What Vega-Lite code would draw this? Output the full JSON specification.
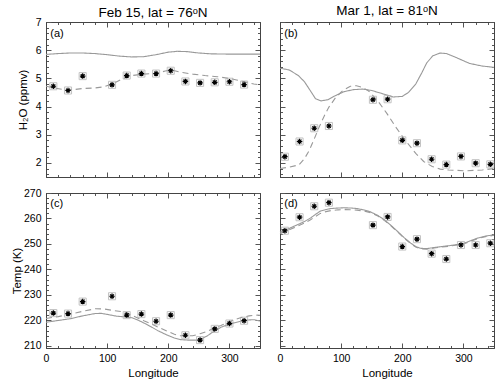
{
  "$schema": "https://vega.github.io/schema/vega-lite/v6.json",
  "padding": {"left": 10, "top": 3, "right": 5, "bottom": 2},
  "background": "white",
  "config": {
    "view": {"stroke": "#444", "strokeWidth": 1},
    "font": "Liberation Sans",
    "axis": {"labelFont": "Liberation Sans", "titleFont": "Liberation Sans", "labelFontSize": 10.5, "titleFontSize": 11.5, "titleFontWeight": "normal", "grid": false, "domainColor": "#444", "tickColor": "#555", "labelColor": "black", "titleColor": "black", "labelFlush": false, "labelOverlap": false, "labelBound": false, "minExtent": 0},
    "title": {"font": "Liberation Sans", "fontSize": 13.5, "fontWeight": "normal", "color": "black", "offset": 4, "anchor": "middle"}
  },
  "datasets": {
    "lines": [
      {"p":"a","s":"solid","lon":0,"v":5.85},{"p":"a","s":"solid","lon":20,"v":5.88},{"p":"a","s":"solid","lon":40,"v":5.9},{"p":"a","s":"solid","lon":60,"v":5.9},{"p":"a","s":"solid","lon":80,"v":5.88},{"p":"a","s":"solid","lon":100,"v":5.84},{"p":"a","s":"solid","lon":120,"v":5.79},{"p":"a","s":"solid","lon":140,"v":5.76},{"p":"a","s":"solid","lon":160,"v":5.77},{"p":"a","s":"solid","lon":180,"v":5.84},{"p":"a","s":"solid","lon":200,"v":5.93},{"p":"a","s":"solid","lon":215,"v":5.96},{"p":"a","s":"solid","lon":230,"v":5.95},{"p":"a","s":"solid","lon":250,"v":5.9},{"p":"a","s":"solid","lon":270,"v":5.87},{"p":"a","s":"solid","lon":300,"v":5.86},{"p":"a","s":"solid","lon":330,"v":5.86},{"p":"a","s":"solid","lon":350,"v":5.86},
      {"p":"a","s":"dashed","lon":0,"v":4.72},{"p":"a","s":"dashed","lon":15,"v":4.65},{"p":"a","s":"dashed","lon":30,"v":4.6},{"p":"a","s":"dashed","lon":45,"v":4.6},{"p":"a","s":"dashed","lon":60,"v":4.64},{"p":"a","s":"dashed","lon":80,"v":4.66},{"p":"a","s":"dashed","lon":95,"v":4.7},{"p":"a","s":"dashed","lon":110,"v":4.82},{"p":"a","s":"dashed","lon":125,"v":4.98},{"p":"a","s":"dashed","lon":140,"v":5.1},{"p":"a","s":"dashed","lon":160,"v":5.15},{"p":"a","s":"dashed","lon":180,"v":5.18},{"p":"a","s":"dashed","lon":195,"v":5.26},{"p":"a","s":"dashed","lon":205,"v":5.3},{"p":"a","s":"dashed","lon":220,"v":5.22},{"p":"a","s":"dashed","lon":240,"v":5.15},{"p":"a","s":"dashed","lon":260,"v":5.1},{"p":"a","s":"dashed","lon":280,"v":5.06},{"p":"a","s":"dashed","lon":300,"v":5.0},{"p":"a","s":"dashed","lon":320,"v":4.9},{"p":"a","s":"dashed","lon":340,"v":4.8},{"p":"a","s":"dashed","lon":350,"v":4.77},
      {"p":"b","s":"solid","lon":0,"v":5.36},{"p":"b","s":"solid","lon":15,"v":5.3},{"p":"b","s":"solid","lon":30,"v":5.1},{"p":"b","s":"solid","lon":40,"v":4.88},{"p":"b","s":"solid","lon":50,"v":4.55},{"p":"b","s":"solid","lon":58,"v":4.28},{"p":"b","s":"solid","lon":67,"v":4.2},{"p":"b","s":"solid","lon":78,"v":4.24},{"p":"b","s":"solid","lon":90,"v":4.38},{"p":"b","s":"solid","lon":105,"v":4.53},{"p":"b","s":"solid","lon":120,"v":4.6},{"p":"b","s":"solid","lon":135,"v":4.62},{"p":"b","s":"solid","lon":150,"v":4.57},{"p":"b","s":"solid","lon":170,"v":4.44},{"p":"b","s":"solid","lon":185,"v":4.34},{"p":"b","s":"solid","lon":200,"v":4.36},{"p":"b","s":"solid","lon":210,"v":4.5},{"p":"b","s":"solid","lon":222,"v":4.8},{"p":"b","s":"solid","lon":232,"v":5.2},{"p":"b","s":"solid","lon":240,"v":5.55},{"p":"b","s":"solid","lon":250,"v":5.8},{"p":"b","s":"solid","lon":262,"v":5.9},{"p":"b","s":"solid","lon":272,"v":5.88},{"p":"b","s":"solid","lon":288,"v":5.74},{"p":"b","s":"solid","lon":310,"v":5.53},{"p":"b","s":"solid","lon":330,"v":5.44},{"p":"b","s":"solid","lon":350,"v":5.39},
      {"p":"b","s":"dashed","lon":0,"v":1.8},{"p":"b","s":"dashed","lon":15,"v":1.85},{"p":"b","s":"dashed","lon":31,"v":1.93},{"p":"b","s":"dashed","lon":40,"v":2.15},{"p":"b","s":"dashed","lon":48,"v":2.45},{"p":"b","s":"dashed","lon":56,"v":2.85},{"p":"b","s":"dashed","lon":64,"v":3.27},{"p":"b","s":"dashed","lon":72,"v":3.65},{"p":"b","s":"dashed","lon":80,"v":3.98},{"p":"b","s":"dashed","lon":92,"v":4.35},{"p":"b","s":"dashed","lon":103,"v":4.57},{"p":"b","s":"dashed","lon":115,"v":4.72},{"p":"b","s":"dashed","lon":125,"v":4.74},{"p":"b","s":"dashed","lon":135,"v":4.68},{"p":"b","s":"dashed","lon":145,"v":4.55},{"p":"b","s":"dashed","lon":160,"v":4.2},{"p":"b","s":"dashed","lon":175,"v":3.75},{"p":"b","s":"dashed","lon":190,"v":3.25},{"p":"b","s":"dashed","lon":205,"v":2.8},{"p":"b","s":"dashed","lon":222,"v":2.34},{"p":"b","s":"dashed","lon":235,"v":2.05},{"p":"b","s":"dashed","lon":249,"v":1.87},{"p":"b","s":"dashed","lon":262,"v":1.78},{"p":"b","s":"dashed","lon":276,"v":1.75},{"p":"b","s":"dashed","lon":303,"v":1.72},{"p":"b","s":"dashed","lon":331,"v":1.75},{"p":"b","s":"dashed","lon":350,"v":1.8},
      {"p":"c","s":"solid","lon":0,"v":219.3},{"p":"c","s":"solid","lon":20,"v":220},{"p":"c","s":"solid","lon":40,"v":220.7},{"p":"c","s":"solid","lon":60,"v":221.8},{"p":"c","s":"solid","lon":80,"v":222.7},{"p":"c","s":"solid","lon":90,"v":222.8},{"p":"c","s":"solid","lon":102,"v":222.3},{"p":"c","s":"solid","lon":115,"v":221.7},{"p":"c","s":"solid","lon":130,"v":221.4},{"p":"c","s":"solid","lon":140,"v":221.1},{"p":"c","s":"solid","lon":150,"v":220.2},{"p":"c","s":"solid","lon":161,"v":218.9},{"p":"c","s":"solid","lon":172,"v":217.5},{"p":"c","s":"solid","lon":183,"v":216},{"p":"c","s":"solid","lon":196,"v":214.5},{"p":"c","s":"solid","lon":210,"v":213.1},{"p":"c","s":"solid","lon":220,"v":212.5},{"p":"c","s":"solid","lon":232,"v":212.3},{"p":"c","s":"solid","lon":248,"v":212.3},{"p":"c","s":"solid","lon":256,"v":213},{"p":"c","s":"solid","lon":264,"v":214},{"p":"c","s":"solid","lon":275,"v":215.8},{"p":"c","s":"solid","lon":286,"v":217.3},{"p":"c","s":"solid","lon":300,"v":218.6},{"p":"c","s":"solid","lon":318,"v":219.7},{"p":"c","s":"solid","lon":330,"v":220.2},{"p":"c","s":"solid","lon":340,"v":220.3},{"p":"c","s":"solid","lon":350,"v":219.8},
      {"p":"c","s":"dashed","lon":0,"v":220.8},{"p":"c","s":"dashed","lon":20,"v":221.5},{"p":"c","s":"dashed","lon":40,"v":222.5},{"p":"c","s":"dashed","lon":60,"v":223.6},{"p":"c","s":"dashed","lon":81,"v":224.6},{"p":"c","s":"dashed","lon":95,"v":224.5},{"p":"c","s":"dashed","lon":110,"v":223.9},{"p":"c","s":"dashed","lon":125,"v":223.4},{"p":"c","s":"dashed","lon":135,"v":222.7},{"p":"c","s":"dashed","lon":150,"v":221},{"p":"c","s":"dashed","lon":160,"v":219.9},{"p":"c","s":"dashed","lon":172,"v":218.7},{"p":"c","s":"dashed","lon":185,"v":217.2},{"p":"c","s":"dashed","lon":198,"v":215.8},{"p":"c","s":"dashed","lon":210,"v":214.6},{"p":"c","s":"dashed","lon":219,"v":214},{"p":"c","s":"dashed","lon":240,"v":214},{"p":"c","s":"dashed","lon":252,"v":214.8},{"p":"c","s":"dashed","lon":264,"v":215.8},{"p":"c","s":"dashed","lon":275,"v":217},{"p":"c","s":"dashed","lon":286,"v":218},{"p":"c","s":"dashed","lon":300,"v":219.6},{"p":"c","s":"dashed","lon":318,"v":221.1},{"p":"c","s":"dashed","lon":332,"v":221.8},{"p":"c","s":"dashed","lon":345,"v":222.1},{"p":"c","s":"dashed","lon":350,"v":222},
      {"p":"d","s":"solid","lon":0,"v":254.6},{"p":"d","s":"solid","lon":14,"v":256},{"p":"d","s":"solid","lon":28,"v":257.5},{"p":"d","s":"solid","lon":40,"v":258.8},{"p":"d","s":"solid","lon":50,"v":260.2},{"p":"d","s":"solid","lon":58,"v":261.6},{"p":"d","s":"solid","lon":66,"v":262.9},{"p":"d","s":"solid","lon":75,"v":263.5},{"p":"d","s":"solid","lon":83,"v":263.9},{"p":"d","s":"solid","lon":95,"v":264.1},{"p":"d","s":"solid","lon":105,"v":264.2},{"p":"d","s":"solid","lon":116,"v":264.1},{"p":"d","s":"solid","lon":126,"v":263.9},{"p":"d","s":"solid","lon":138,"v":263.3},{"p":"d","s":"solid","lon":148,"v":262.6},{"p":"d","s":"solid","lon":160,"v":261.2},{"p":"d","s":"solid","lon":170,"v":259.6},{"p":"d","s":"solid","lon":181,"v":257.4},{"p":"d","s":"solid","lon":192,"v":255},{"p":"d","s":"solid","lon":203,"v":252.5},{"p":"d","s":"solid","lon":214,"v":250.3},{"p":"d","s":"solid","lon":222,"v":249},{"p":"d","s":"solid","lon":230,"v":248.3},{"p":"d","s":"solid","lon":240,"v":248.2},{"p":"d","s":"solid","lon":252,"v":248.6},{"p":"d","s":"solid","lon":265,"v":249},{"p":"d","s":"solid","lon":279,"v":249.4},{"p":"d","s":"solid","lon":290,"v":249.8},{"p":"d","s":"solid","lon":301,"v":250.3},{"p":"d","s":"solid","lon":312,"v":251.3},{"p":"d","s":"solid","lon":323,"v":252.3},{"p":"d","s":"solid","lon":336,"v":253.1},{"p":"d","s":"solid","lon":350,"v":253.6},
      {"p":"d","s":"dashed","lon":0,"v":254.1},{"p":"d","s":"dashed","lon":14,"v":255.5},{"p":"d","s":"dashed","lon":28,"v":256.9},{"p":"d","s":"dashed","lon":40,"v":258.2},{"p":"d","s":"dashed","lon":50,"v":259.5},{"p":"d","s":"dashed","lon":58,"v":260.8},{"p":"d","s":"dashed","lon":66,"v":262},{"p":"d","s":"dashed","lon":75,"v":262.7},{"p":"d","s":"dashed","lon":83,"v":263.1},{"p":"d","s":"dashed","lon":95,"v":263.4},{"p":"d","s":"dashed","lon":105,"v":263.5},{"p":"d","s":"dashed","lon":116,"v":263.4},{"p":"d","s":"dashed","lon":126,"v":263.3},{"p":"d","s":"dashed","lon":138,"v":262.9},{"p":"d","s":"dashed","lon":148,"v":262.3},{"p":"d","s":"dashed","lon":160,"v":261},{"p":"d","s":"dashed","lon":170,"v":259.4},{"p":"d","s":"dashed","lon":181,"v":257.2},{"p":"d","s":"dashed","lon":192,"v":254.8},{"p":"d","s":"dashed","lon":203,"v":252.3},{"p":"d","s":"dashed","lon":214,"v":250.1},{"p":"d","s":"dashed","lon":222,"v":248.8},{"p":"d","s":"dashed","lon":230,"v":248.1},{"p":"d","s":"dashed","lon":240,"v":248},{"p":"d","s":"dashed","lon":252,"v":248.4},{"p":"d","s":"dashed","lon":265,"v":248.8},{"p":"d","s":"dashed","lon":279,"v":249.2},{"p":"d","s":"dashed","lon":290,"v":249.6},{"p":"d","s":"dashed","lon":301,"v":250.1},{"p":"d","s":"dashed","lon":312,"v":251.1},{"p":"d","s":"dashed","lon":323,"v":252.1},{"p":"d","s":"dashed","lon":336,"v":252.9},{"p":"d","s":"dashed","lon":350,"v":253.4}
    ],
    "obs": [
      {"p":"a","lon":12,"v":4.72},{"p":"a","lon":36,"v":4.57},{"p":"a","lon":60,"v":5.08},{"p":"a","lon":108,"v":4.77},{"p":"a","lon":132,"v":5.1},{"p":"a","lon":156,"v":5.17},{"p":"a","lon":180,"v":5.17},{"p":"a","lon":204,"v":5.27},{"p":"a","lon":228,"v":4.89},{"p":"a","lon":252,"v":4.84},{"p":"a","lon":276,"v":4.86},{"p":"a","lon":300,"v":4.88},{"p":"a","lon":324,"v":4.78},
      {"p":"b","lon":8,"v":2.22},{"p":"b","lon":32,"v":2.76},{"p":"b","lon":56,"v":3.23},{"p":"b","lon":80,"v":3.31},{"p":"b","lon":152,"v":4.24},{"p":"b","lon":176,"v":4.26},{"p":"b","lon":200,"v":2.8},{"p":"b","lon":224,"v":2.7},{"p":"b","lon":248,"v":2.13},{"p":"b","lon":272,"v":1.94},{"p":"b","lon":296,"v":2.23},{"p":"b","lon":320,"v":1.99},{"p":"b","lon":344,"v":1.95},
      {"p":"c","lon":12,"v":222.9},{"p":"c","lon":36,"v":222.7},{"p":"c","lon":60,"v":227.4},{"p":"c","lon":108,"v":229.5},{"p":"c","lon":132,"v":222.1},{"p":"c","lon":156,"v":222.5},{"p":"c","lon":180,"v":219.7},{"p":"c","lon":204,"v":222.1},{"p":"c","lon":228,"v":214.2},{"p":"c","lon":252,"v":212.3},{"p":"c","lon":276,"v":216.7},{"p":"c","lon":300,"v":218.8},{"p":"c","lon":324,"v":219.9},
      {"p":"d","lon":8,"v":255.2},{"p":"d","lon":32,"v":260.5},{"p":"d","lon":56,"v":264.8},{"p":"d","lon":80,"v":266.2},{"p":"d","lon":152,"v":257.4},{"p":"d","lon":176,"v":260.6},{"p":"d","lon":200,"v":249.0},{"p":"d","lon":224,"v":251.9},{"p":"d","lon":248,"v":246.2},{"p":"d","lon":272,"v":244.1},{"p":"d","lon":296,"v":249.6},{"p":"d","lon":320,"v":249.6},{"p":"d","lon":344,"v":250.3}
    ]
  },
  "columns": 2,
  "bounds": "flush",
  "align": "all",
  "spacing": {"row": 16, "column": 20},
  "concat": [
    {
      "title": {"text": "Feb 15, lat = 76ᵒN", "offset": -2},
      "width": 214, "height": 155,
      "layer": [
        {"data": {"name": "lines"}, "transform": [{"filter": "datum.p === 'a'"}],
         "mark": {"type": "line", "color": "#999", "strokeWidth": 1.1},
         "encoding": {
           "x": {"field": "lon", "type": "quantitative", "scale": {"domain": [0, 350], "nice": false}, "axis": {"orient": "bottom", "values": [0,20,40,60,80,100,120,140,160,180,200,220,240,260,280,300,320,340], "labels": false, "title": null, "tickSize": {"condition": {"test": "datum.value % 100 === 0", "value": -5}, "value": -2.5}}},
           "y": {"field": "v", "type": "quantitative", "scale": {"domain": [1.5, 7], "nice": false, "zero": false}, "axis": {"orient": "left", "values": [1.6,1.8,2,2.2,2.4,2.6,2.8,3,3.2,3.4,3.6,3.8,4,4.2,4.4,4.6,4.8,5,5.2,5.4,5.6,5.8,6,6.2,6.4,6.6,6.8,7], "labelExpr": "abs(datum.value - round(datum.value)) < 0.001 ? '' + round(datum.value) : ''", "labelPadding": 10, "title": "H₂O (ppmv)", "titleBaseline": "middle", "titleX": -23, "tickSize": {"condition": {"test": "abs(datum.value - round(datum.value)) < 0.001", "value": -5}, "value": -2.5}}},
           "strokeDash": {"field": "s", "type": "nominal", "scale": {"domain": ["solid", "dashed"], "range": [[1, 0], [6, 4]]}, "legend": null}
         }},
        {"data": {"name": "obs"}, "transform": [{"filter": "datum.p === 'a'"}],
         "mark": {"type": "point", "shape": "square", "size": 50, "filled": false, "stroke": "#aaa", "strokeWidth": 1},
         "encoding": {"x": {"field": "lon", "type": "quantitative", "axis": null}, "y": {"field": "v", "type": "quantitative", "axis": null}}},
        {"data": {"name": "obs"}, "transform": [{"filter": "datum.p === 'a'"}],
         "mark": {"type": "point", "shape": "M-1,0H1M0,-1V1M-0.7,-0.7L0.7,0.7M-0.7,0.7L0.7,-0.7", "size": 30, "filled": false, "stroke": "black", "strokeWidth": 1.2, "opacity": 1},
         "encoding": {
           "x": {"field": "lon", "type": "quantitative", "axis": {"orient": "top", "values": [0,20,40,60,80,100,120,140,160,180,200,220,240,260,280,300,320,340], "labels": false, "title": null, "tickSize": {"condition": {"test": "datum.value % 100 === 0", "value": -5}, "value": -2.5}}},
           "y": {"field": "v", "type": "quantitative", "axis": {"orient": "right", "values": [1.6,1.8,2,2.2,2.4,2.6,2.8,3,3.2,3.4,3.6,3.8,4,4.2,4.4,4.6,4.8,5,5.2,5.4,5.6,5.8,6,6.2,6.4,6.6,6.8,7], "labels": false, "title": null, "tickSize": {"condition": {"test": "abs(datum.value - round(datum.value)) < 0.001", "value": -5}, "value": -2.5}}}
         }},
        {"data": {"values": [{"t": "(a)"}]},
         "mark": {"type": "text", "align": "left", "baseline": "middle", "fontSize": 11, "font": "Liberation Sans"},
         "encoding": {"x": {"datum": 7, "type": "quantitative", "axis": null}, "y": {"datum": 6.58, "type": "quantitative", "axis": null}, "text": {"field": "t"}}}
      ]
    },
    {
      "title": {"text": "Mar 1, lat = 81ᵒN", "offset": 4},
      "width": 214, "height": 155,
      "layer": [
        {"data": {"name": "lines"}, "transform": [{"filter": "datum.p === 'b'"}],
         "mark": {"type": "line", "color": "#999", "strokeWidth": 1.1},
         "encoding": {
           "x": {"field": "lon", "type": "quantitative", "scale": {"domain": [0, 350], "nice": false}, "axis": {"orient": "bottom", "values": [0,20,40,60,80,100,120,140,160,180,200,220,240,260,280,300,320,340], "labels": false, "title": null, "tickSize": {"condition": {"test": "datum.value % 100 === 0", "value": -5}, "value": -2.5}}},
           "y": {"field": "v", "type": "quantitative", "scale": {"domain": [1.5, 7], "nice": false, "zero": false}, "axis": {"orient": "left", "values": [1.6,1.8,2,2.2,2.4,2.6,2.8,3,3.2,3.4,3.6,3.8,4,4.2,4.4,4.6,4.8,5,5.2,5.4,5.6,5.8,6,6.2,6.4,6.6,6.8,7], "labels": false, "title": null, "tickSize": {"condition": {"test": "abs(datum.value - round(datum.value)) < 0.001", "value": -5}, "value": -2.5}}},
           "strokeDash": {"field": "s", "type": "nominal", "scale": {"domain": ["solid", "dashed"], "range": [[1, 0], [6, 4]]}, "legend": null}
         }},
        {"data": {"name": "obs"}, "transform": [{"filter": "datum.p === 'b'"}],
         "mark": {"type": "point", "shape": "square", "size": 50, "filled": false, "stroke": "#aaa", "strokeWidth": 1},
         "encoding": {"x": {"field": "lon", "type": "quantitative", "axis": null}, "y": {"field": "v", "type": "quantitative", "axis": null}}},
        {"data": {"name": "obs"}, "transform": [{"filter": "datum.p === 'b'"}],
         "mark": {"type": "point", "shape": "M-1,0H1M0,-1V1M-0.7,-0.7L0.7,0.7M-0.7,0.7L0.7,-0.7", "size": 30, "filled": false, "stroke": "black", "strokeWidth": 1.2, "opacity": 1},
         "encoding": {
           "x": {"field": "lon", "type": "quantitative", "axis": {"orient": "top", "values": [0,20,40,60,80,100,120,140,160,180,200,220,240,260,280,300,320,340], "labels": false, "title": null, "tickSize": {"condition": {"test": "datum.value % 100 === 0", "value": -5}, "value": -2.5}}},
           "y": {"field": "v", "type": "quantitative", "axis": {"orient": "right", "values": [1.6,1.8,2,2.2,2.4,2.6,2.8,3,3.2,3.4,3.6,3.8,4,4.2,4.4,4.6,4.8,5,5.2,5.4,5.6,5.8,6,6.2,6.4,6.6,6.8,7], "labels": false, "title": null, "tickSize": {"condition": {"test": "abs(datum.value - round(datum.value)) < 0.001", "value": -5}, "value": -2.5}}}
         }},
        {"data": {"values": [{"t": "(b)"}]},
         "mark": {"type": "text", "align": "left", "baseline": "middle", "fontSize": 11, "font": "Liberation Sans"},
         "encoding": {"x": {"datum": 7, "type": "quantitative", "axis": null}, "y": {"datum": 6.58, "type": "quantitative", "axis": null}, "text": {"field": "t"}}}
      ]
    },
    {
      "width": 214, "height": 155,
      "layer": [
        {"data": {"name": "lines"}, "transform": [{"filter": "datum.p === 'c'"}],
         "mark": {"type": "line", "color": "#999", "strokeWidth": 1.1},
         "encoding": {
           "x": {"field": "lon", "type": "quantitative", "scale": {"domain": [0, 350], "nice": false}, "axis": {"orient": "bottom", "values": [0,20,40,60,80,100,120,140,160,180,200,220,240,260,280,300,320,340], "labelExpr": "datum.value % 100 === 0 ? datum.label : ''", "labelPadding": 10, "title": "Longitude", "titlePadding": 1, "tickSize": {"condition": {"test": "datum.value % 100 === 0", "value": -5}, "value": -2.5}}},
           "y": {"field": "v", "type": "quantitative", "scale": {"domain": [209.2, 270], "nice": false, "zero": false}, "axis": {"orient": "left", "values": [210,212,214,216,218,220,222,224,226,228,230,232,234,236,238,240,242,244,246,248,250,252,254,256,258,260,262,264,266,268,270], "labelExpr": "datum.value % 10 === 0 ? datum.label : ''", "labelPadding": 10, "title": "Temp (K)", "titleBaseline": "middle", "titleX": -29, "tickSize": {"condition": {"test": "datum.value % 10 === 0", "value": -5}, "value": -2.5}}},
           "strokeDash": {"field": "s", "type": "nominal", "scale": {"domain": ["solid", "dashed"], "range": [[1, 0], [6, 4]]}, "legend": null}
         }},
        {"data": {"name": "obs"}, "transform": [{"filter": "datum.p === 'c'"}],
         "mark": {"type": "point", "shape": "square", "size": 50, "filled": false, "stroke": "#aaa", "strokeWidth": 1},
         "encoding": {"x": {"field": "lon", "type": "quantitative", "axis": null}, "y": {"field": "v", "type": "quantitative", "axis": null}}},
        {"data": {"name": "obs"}, "transform": [{"filter": "datum.p === 'c'"}],
         "mark": {"type": "point", "shape": "M-1,0H1M0,-1V1M-0.7,-0.7L0.7,0.7M-0.7,0.7L0.7,-0.7", "size": 30, "filled": false, "stroke": "black", "strokeWidth": 1.2, "opacity": 1},
         "encoding": {
           "x": {"field": "lon", "type": "quantitative", "axis": {"orient": "top", "values": [0,20,40,60,80,100,120,140,160,180,200,220,240,260,280,300,320,340], "labels": false, "title": null, "tickSize": {"condition": {"test": "datum.value % 100 === 0", "value": -5}, "value": -2.5}}},
           "y": {"field": "v", "type": "quantitative", "axis": {"orient": "right", "values": [210,212,214,216,218,220,222,224,226,228,230,232,234,236,238,240,242,244,246,248,250,252,254,256,258,260,262,264,266,268,270], "labels": false, "title": null, "tickSize": {"condition": {"test": "datum.value % 10 === 0", "value": -5}, "value": -2.5}}}
         }},
        {"data": {"values": [{"t": "(c)"}]},
         "mark": {"type": "text", "align": "left", "baseline": "middle", "fontSize": 11, "font": "Liberation Sans"},
         "encoding": {"x": {"datum": 7, "type": "quantitative", "axis": null}, "y": {"datum": 265.6, "type": "quantitative", "axis": null}, "text": {"field": "t"}}}
      ]
    },
    {
      "width": 214, "height": 155,
      "layer": [
        {"data": {"name": "lines"}, "transform": [{"filter": "datum.p === 'd'"}],
         "mark": {"type": "line", "color": "#999", "strokeWidth": 1.1},
         "encoding": {
           "x": {"field": "lon", "type": "quantitative", "scale": {"domain": [0, 350], "nice": false}, "axis": {"orient": "bottom", "values": [0,20,40,60,80,100,120,140,160,180,200,220,240,260,280,300,320,340], "labelExpr": "datum.value % 100 === 0 ? datum.label : ''", "labelPadding": 10, "title": "Longitude", "titlePadding": 1, "tickSize": {"condition": {"test": "datum.value % 100 === 0", "value": -5}, "value": -2.5}}},
           "y": {"field": "v", "type": "quantitative", "scale": {"domain": [209.2, 270], "nice": false, "zero": false}, "axis": {"orient": "left", "values": [210,212,214,216,218,220,222,224,226,228,230,232,234,236,238,240,242,244,246,248,250,252,254,256,258,260,262,264,266,268,270], "labels": false, "title": null, "tickSize": {"condition": {"test": "datum.value % 10 === 0", "value": -5}, "value": -2.5}}},
           "strokeDash": {"field": "s", "type": "nominal", "scale": {"domain": ["solid", "dashed"], "range": [[1, 0], [6, 4]]}, "legend": null}
         }},
        {"data": {"name": "obs"}, "transform": [{"filter": "datum.p === 'd'"}],
         "mark": {"type": "point", "shape": "square", "size": 50, "filled": false, "stroke": "#aaa", "strokeWidth": 1},
         "encoding": {"x": {"field": "lon", "type": "quantitative", "axis": null}, "y": {"field": "v", "type": "quantitative", "axis": null}}},
        {"data": {"name": "obs"}, "transform": [{"filter": "datum.p === 'd'"}],
         "mark": {"type": "point", "shape": "M-1,0H1M0,-1V1M-0.7,-0.7L0.7,0.7M-0.7,0.7L0.7,-0.7", "size": 30, "filled": false, "stroke": "black", "strokeWidth": 1.2, "opacity": 1},
         "encoding": {
           "x": {"field": "lon", "type": "quantitative", "axis": {"orient": "top", "values": [0,20,40,60,80,100,120,140,160,180,200,220,240,260,280,300,320,340], "labels": false, "title": null, "tickSize": {"condition": {"test": "datum.value % 100 === 0", "value": -5}, "value": -2.5}}},
           "y": {"field": "v", "type": "quantitative", "axis": {"orient": "right", "values": [210,212,214,216,218,220,222,224,226,228,230,232,234,236,238,240,242,244,246,248,250,252,254,256,258,260,262,264,266,268,270], "labels": false, "title": null, "tickSize": {"condition": {"test": "datum.value % 10 === 0", "value": -5}, "value": -2.5}}}
         }},
        {"data": {"values": [{"t": "(d)"}]},
         "mark": {"type": "text", "align": "left", "baseline": "middle", "fontSize": 11, "font": "Liberation Sans"},
         "encoding": {"x": {"datum": 7, "type": "quantitative", "axis": null}, "y": {"datum": 265.6, "type": "quantitative", "axis": null}, "text": {"field": "t"}}}
      ]
    }
  ]
}
